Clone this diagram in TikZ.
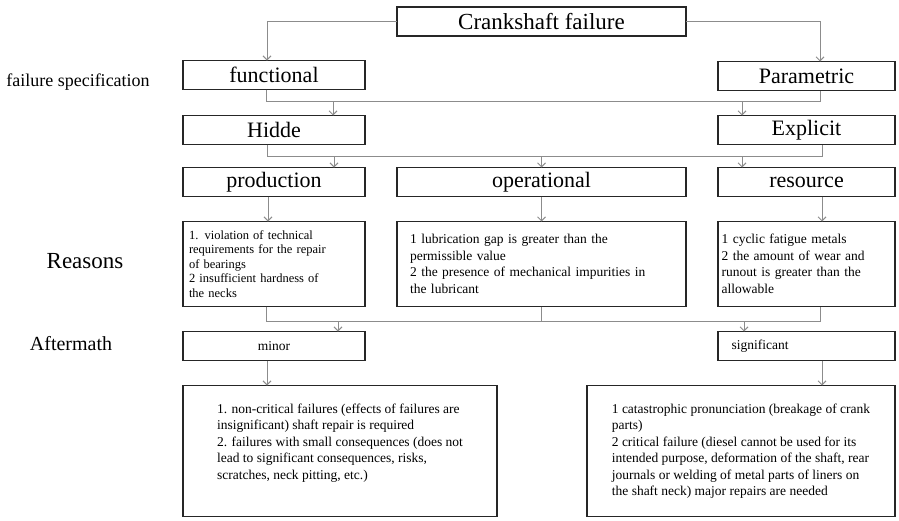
\documentclass[tikz,border=0pt]{standalone}
\usepackage{fontspec}
\setmainfont{Liberation Serif}
\usetikzlibrary{arrows.meta,positioning}

\begin{document}
\begin{tikzpicture}[
  x=1pt,y=-1pt,
  node distance=25pt,
  box/.style={draw=black!85,line width=1.6pt,fill=white,minimum height=29pt,inner sep=0pt,outer sep=0pt,font=\fontsize{22}{24}\selectfont},
  small/.style={box,font=\fontsize{13.5}{16}\selectfont},
  note/.style={draw=black!85,line width=1.3pt,fill=white,align=left,inner sep=0pt,outer sep=0pt,font=\fontsize{13.5}{16.5}\selectfont},
  side/.style={font=\fontsize{20}{22}\selectfont},
  link/.style={draw=black!45,line width=1pt},
  arrow/.style={-{Straight Barb[length=4pt,width=8pt]},draw=black!45,line width=1pt}
]
\useasboundingbox (0,0) rectangle (899,520);

% row labels
\node[side,font=\fontsize{18}{20}\selectfont] (spec) at (78,82) {failure specification};
\node[side,font=\fontsize{23}{25}\selectfont] (why) at (85,261) {Reasons};
\node[side] (after) at (71,344) {Aftermath};

% kinds of failure
\node[box,minimum width=289pt,font=\fontsize{23}{25}\selectfont] (crank) at (541.5,21.5) {Crankshaft failure};
\node[box,minimum width=182pt] (func) at (274,75) {functional};
\node[box,minimum width=177pt] (param) at (806.5,76) {Parametric};
\node[box,minimum width=182pt,below=26pt of func] (hidde) {Hidde};
\node[box,minimum width=177pt,below=25pt of param] (expl) {Explicit};
\node[box,minimum width=182pt,below=23pt of hidde] (prod) {production};
\node[box,minimum width=289pt] (oper) at (541.5,182) {operational};
\node[box,minimum width=177pt,below=23pt of expl] (resrc) {resource};

% reasons
\node[note,minimum width=182pt,minimum height=85pt,text width=170pt,below=of prod,font=\fontsize{12.5}{14.5}\selectfont] (prodR) {1. violation of technical\\requirements for the repair\\of bearings\\2 insufficient hardness of\\the necks};
\node[note,minimum width=289pt,minimum height=85pt,text width=263pt,below=of oper] (operR) {1 lubrication gap is greater than the\\permissible value\\2 the presence of mechanical impurities in\\the lubricant};
\node[note,minimum width=177pt,minimum height=85pt,text width=170pt,below=of resrc] (resR) {1 cyclic fatigue metals\\2 the amount of wear and\\runout is greater than the\\allowable};

% aftermath
\node[small,minimum width=182pt,below=of prodR] (minor) {minor};
\node[small,minimum width=177pt,text width=150pt,align=left,below=of resR] (signif) {significant};
\node[note,minimum width=314pt,minimum height=131pt,below=25pt of minor.south west,anchor=north west] (minorR) {1. non-critical failures (effects of failures are\\insignificant) shaft repair is required\\2. failures with small consequences (does not\\lead to significant consequences, risks,\\scratches, neck pitting, etc.)\\\rule{0pt}{15pt}};
\node[note,minimum width=308pt,minimum height=131pt,below=25pt of signif.south east,anchor=north east] (sigR) {1 catastrophic pronunciation (breakage of crank\\parts)\\2 critical failure (diesel cannot be used for its\\intended purpose, deformation of the shaft, rear\\journals or welding of metal parts of liners on\\the shaft neck) major repairs are needed};

% connectors
\draw[arrow] (crank.west) -| ([xshift=-7pt]func.north);
\draw[arrow] (crank.east) -| ([xshift=13.5pt]param.north);
\draw[link] ([xshift=-8pt]func.south) -- ++(0,12) -| ([xshift=13.5pt]param.south);
\draw[arrow] ([xshift=59pt]hidde.north) ++(0,-14) -- ++(0,14);
\draw[arrow] ([xshift=-64.5pt]expl.north) ++(0,-14) -- ++(0,14);
\draw[link] ([xshift=-7pt]hidde.south) -- ++(0,12) -| ([xshift=15.5pt]expl.south);
\draw[arrow] ([xshift=60pt]prod.north) ++(0,-11) -- ++(0,11);
\draw[arrow] (oper.north) ++(0,-11) -- ++(0,11);
\draw[arrow] ([xshift=-64.5pt]resrc.north) ++(0,-11) -- ++(0,11);
\draw[arrow] ([xshift=-6pt]prod.south) -- ([xshift=-6pt]prodR.north);
\draw[arrow] (oper) -- (operR);
\draw[arrow] ([xshift=15.5pt]resrc.south) -- ([xshift=15.5pt]resR.north);
\draw[link] ([xshift=-8pt]prodR.south) -- ++(0,14.5) -| ([xshift=13.5pt]resR.south);
\draw[link] (operR.south) -- ++(0,14.5);
\draw[arrow] ([xshift=64pt]minor.north) ++(0,-10.5) -- ++(0,10.5);
\draw[arrow] ([xshift=-62.5pt]signif.north) ++(0,-10.5) -- ++(0,10.5);
\draw[arrow] ([xshift=-7pt]minor.south) -- ++(0,25);
\draw[arrow] ([xshift=15.5pt]signif.south) -- ++(0,25);
\end{tikzpicture}
\end{document}
